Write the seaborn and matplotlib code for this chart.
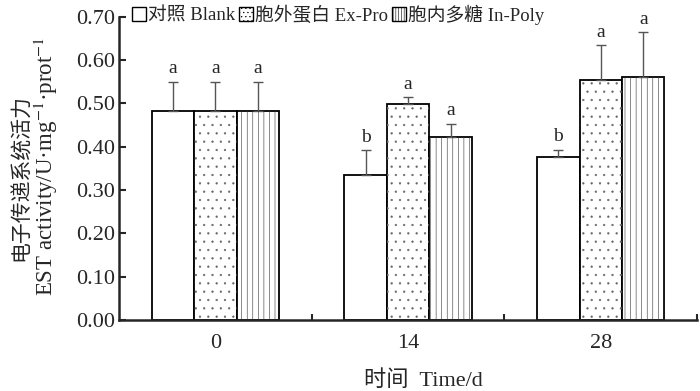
import numpy as np
import pandas as pd
import seaborn as sns
import matplotlib.pyplot as plt
from matplotlib.patches import Patch, Rectangle

days = ['0', '14', '28']
groups = ['对照 Blank', '胞外蛋白 Ex-Pro', '胞内多糖 In-Poly']
blank = [0.483, 0.335, 0.376]
expro = [0.483, 0.499, 0.554]
inpoly = [0.483, 0.423, 0.561]
blank_err = [0.067, 0.057, 0.017]
expro_err = [0.067, 0.016, 0.081]
inpoly_err = [0.067, 0.030, 0.104]
blank_sig = ['a', 'b', 'b']
expro_sig = ['a', 'a', 'a']
inpoly_sig = ['a', 'a', 'a']

df = pd.DataFrame({
    'day': days * 3,
    'group': np.repeat(groups, 3),
    'value': blank + expro + inpoly,
})
errs = [blank_err, expro_err, inpoly_err]
sigs = [blank_sig, expro_sig, inpoly_sig]

sns.set_style('ticks')
fam = ['Liberation Serif', 'Noto Sans CJK SC']
plt.rcParams['font.family'] = fam
plt.rcParams['hatch.linewidth'] = 0.4
plt.rcParams['mathtext.fontset'] = 'stix'

fig = plt.figure(figsize=(7, 3.91), dpi=100)
ax = fig.add_axes([0.17, 0.182, 0.826, 0.775])
sns.barplot(data=df, x='day', y='value', hue='group', order=days, hue_order=groups,
            width=0.66, errorbar=None, ax=ax, legend=False)

hatches = ['', '..', '|||']
hatch_cols = ['black', '#666666', '#333333']
bar_sets = list(ax.containers)
for i, cont in enumerate(bar_sets):
    for j, p in enumerate(cont.patches):
        p.set_facecolor('white')
        p.set_edgecolor('black')
        p.set_linewidth(1.3)
        if hatches[i]:
            # hatch drawn on a copy so it can be grey while the outline stays black
            ax.add_patch(Rectangle((p.get_x(), p.get_y()), p.get_width(), p.get_height(),
                                   facecolor='none', edgecolor=hatch_cols[i], linewidth=0,
                                   hatch=hatches[i], zorder=p.get_zorder() + 0.1))
        x = p.get_x() + p.get_width() / 2
        h = p.get_height()
        ax.errorbar(x, h, yerr=[[0], [errs[i][j]]], fmt='none', ecolor='#555555',
                    elinewidth=1, capsize=3.5, capthick=1, zorder=1)
        ax.text(x, h + errs[i][j] + 0.01, sigs[i][j], ha='center', va='bottom',
                fontsize=14, family=fam)

ax.set_ylim(0, 0.70)
ax.set_xlim(-0.5, 2.5)
ax.set_yticks(np.arange(0, 0.71, 0.1))
ax.set_yticklabels([f'{v:.2f}' for v in np.arange(0, 0.71, 0.1)], fontsize=16)
ax.set_xticklabels(days, fontsize=16)
ax.tick_params(axis='x', which='major', length=0, pad=10)
ax.set_xticks([0.5, 1.5, 2.5], minor=True)
ax.tick_params(axis='x', which='minor', direction='in', length=4, width=1.5)
ax.tick_params(axis='y', direction='in', length=5, width=1.5, pad=3)
sns.despine(ax=ax)
for s in ['left', 'bottom']:
    ax.spines[s].set_linewidth(1.8)

ax.set_xlabel('时间  Time/d', fontsize=16, labelpad=6)
ax.xaxis.set_label_coords(0.526, -0.165)
ax.set_ylabel('')
fig.text(0.032, 0.545, '电子传递系统活力', rotation=90, ha='center', va='center', fontsize=15, family=fam)
fig.text(0.066, 0.575, 'EST activity/U·mg$^{-1}$·prot$^{-1}$', rotation=90, ha='center', va='center', fontsize=16.5, family=fam)

handles = [Patch(facecolor='white', edgecolor='black', hatch=h * 2, linewidth=1) for h in hatches]
fig.legend(handles, groups, loc='center left', bbox_to_anchor=(0.178, 0.963), ncol=3,
           frameon=False, handlelength=0.75, handleheight=0.75, handletextpad=0.1,
           columnspacing=0.2, borderaxespad=0, prop={'family': fam, 'size': 13.5})

fig.savefig('out.png', dpi=100)
